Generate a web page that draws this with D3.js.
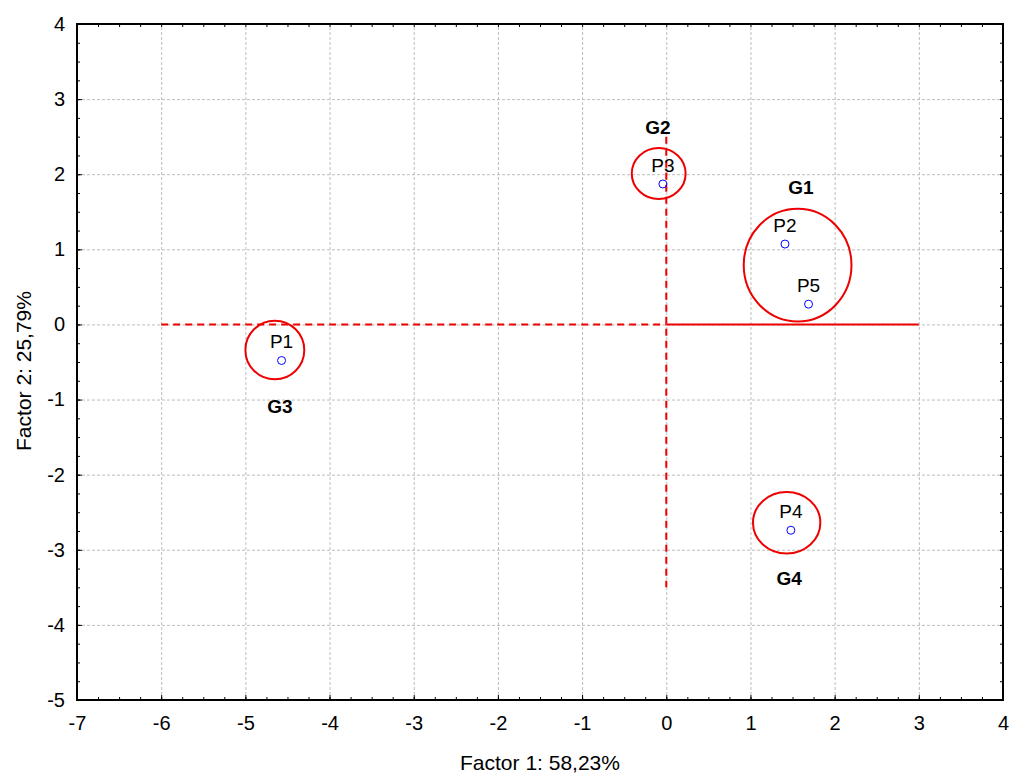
<!DOCTYPE html>
<html>
<head>
<meta charset="utf-8">
<script src="https://cdn.jsdelivr.net/npm/d3@7"></script>
<style>
  body { margin: 0; background: #fff; }
  text { font-family: Arial, "Liberation Sans", sans-serif; }
</style>
</head>
<body>
<div class="canvas"></div>
<script>
// points (factor scores)
const pointNames = ["P1", "P2", "P3", "P4", "P5"];
const pointX = [-4.57, 1.41, -0.04, 1.48, 1.69];
const pointY = [-0.48, 1.07, 1.87, -2.74, 0.27];

// groups drawn as ellipses round the points
const groupNames = ["G1", "G2", "G3", "G4"];
const groupCx = [1.56, -0.09, -4.65, 1.43];
const groupCy = [0.79, 2.01, -0.34, -2.64];
const groupRx = [0.64, 0.32, 0.35, 0.40];
const groupRy = [0.75, 0.34, 0.39, 0.41];
const groupLabelX = [1.60, -0.10, -4.59, 1.46];
const groupLabelY = [1.82, 2.62, -1.09, -3.38];

// red reference lines [x1, y1, x2, y2]
const dashedLines = [[-6, 0, 0, 0], [0, 2.5, 0, -3.5]];
const solidLines = [[0, 0, 3, 0]];

const xTicks = [-7, -6, -5, -4, -3, -2, -1, 0, 1, 2, 3, 4];
const yTicks = [-5, -4, -3, -2, -1, 0, 1, 2, 3, 4];

const margin = { top: 24, right: 8, bottom: 74, left: 77 };
const width = 1011 - margin.left - margin.right;
const height = 774 - margin.top - margin.bottom;

const svg = d3.select(".canvas")
  .append("svg")
    .attr("width", 1011)
    .attr("height", 774);

const graph = svg.append("g")
  .attr("transform", `translate(${margin.left}, ${margin.top})`);

const x = d3.scaleLinear().domain([-7, 4]).range([0, width]);
const y = d3.scaleLinear().domain([-5, 4]).range([height, 0]);

// minor ticks every 0.25
const minorX = d3.range(-7, 4.001, 0.25);
const minorY = d3.range(-5, 4.001, 0.25);

// plain hyphen for negatives, like the original
const fmt = d => String(d);

// GRID
graph.append("g")
  .attr("class", "grid")
  .attr("transform", `translate(0, ${height})`)
  .call(d3.axisBottom(x).tickValues(xTicks).tickSize(-height).tickFormat(""));
graph.append("g")
  .attr("class", "grid")
  .call(d3.axisLeft(y).tickValues(yTicks).tickSize(-width).tickFormat(""));
graph.selectAll(".grid .domain").remove();
graph.selectAll(".grid line")
  .attr("stroke", "#bdbdbd")
  .attr("stroke-dasharray", "3,2");

// RED LINES
graph.selectAll(".dashed")
  .data(dashedLines)
  .enter().append("line")
    .attr("x1", d => x(d[0])).attr("y1", d => y(d[1]))
    .attr("x2", d => x(d[2])).attr("y2", d => y(d[3]))
    .attr("stroke", "#ee0000")
    .attr("stroke-width", 2)
    .attr("stroke-dasharray", "7,5");
graph.selectAll(".solid")
  .data(solidLines)
  .enter().append("line")
    .attr("x1", d => x(d[0])).attr("y1", d => y(d[1]))
    .attr("x2", d => x(d[2])).attr("y2", d => y(d[3]))
    .attr("stroke", "#ee0000")
    .attr("stroke-width", 2);

// ELLIPSES
const groups = groupNames.map((n, i) => ({
  name: n, cx: groupCx[i], cy: groupCy[i], rx: groupRx[i], ry: groupRy[i],
  lx: groupLabelX[i], ly: groupLabelY[i]
}));

graph.selectAll(".grp")
  .data(groups)
  .enter().append("ellipse")
    .attr("cx", d => x(d.cx))
    .attr("cy", d => y(d.cy))
    .attr("rx", d => x(d.cx + d.rx) - x(d.cx))
    .attr("ry", d => y(d.cy - d.ry) - y(d.cy))
    .attr("fill", "none")
    .attr("stroke", "#ee0000")
    .attr("stroke-width", 2);

graph.selectAll(".glabel")
  .data(groups)
  .enter().append("text")
    .attr("x", d => x(d.lx))
    .attr("y", d => y(d.ly))
    .attr("dy", "0.35em")
    .attr("text-anchor", "middle")
    .style("font-size", "19px")
    .style("font-weight", "bold")
    .text(d => d.name);

// POINTS
const points = pointNames.map((n, i) => ({ name: n, x: pointX[i], y: pointY[i] }));

graph.selectAll(".pt")
  .data(points)
  .enter().append("circle")
    .attr("cx", d => x(d.x))
    .attr("cy", d => y(d.y))
    .attr("r", 4)
    .attr("fill", "none")
    .attr("stroke", "#0000ff")
    .attr("stroke-width", 1);

graph.selectAll(".plabel")
  .data(points)
  .enter().append("text")
    .attr("x", d => x(d.x))
    .attr("y", d => y(d.y) - 12)
    .attr("text-anchor", "middle")
    .style("font-size", "19px")
    .text(d => d.name);

// AXES - ticks point inward on all four sides
const tickLabelSize = "20px";

const xAxis = graph.append("g")
  .attr("transform", `translate(0, ${height})`)
  .call(d3.axisBottom(x).tickValues(xTicks).tickFormat(fmt)
    .tickSizeInner(-5).tickSizeOuter(0).tickPadding(16));
xAxis.selectAll("text").style("font-size", tickLabelSize).attr("fill", "#000");

graph.append("g")
  .attr("transform", `translate(0, ${height})`)
  .call(d3.axisBottom(x).tickValues(minorX).tickSize(-3).tickFormat(""));

const yAxis = graph.append("g")
  .call(d3.axisLeft(y).tickValues(yTicks).tickFormat(fmt)
    .tickSizeInner(-5).tickSizeOuter(0).tickPadding(12));
yAxis.selectAll("text").style("font-size", tickLabelSize).attr("fill", "#000");

graph.append("g")
  .call(d3.axisLeft(y).tickValues(minorY).tickSize(-3).tickFormat(""));

graph.append("g")
  .call(d3.axisTop(x).tickValues(minorX).tickSize(-3).tickFormat(""));
graph.append("g")
  .attr("transform", `translate(${width}, 0)`)
  .call(d3.axisRight(y).tickValues(minorY).tickSize(-3).tickFormat(""));

graph.selectAll(".domain").remove();

// frame
graph.append("rect")
  .attr("width", width)
  .attr("height", height)
  .attr("fill", "none")
  .attr("stroke", "#000")
  .attr("stroke-width", 2);

// AXIS TITLES
svg.append("text")
  .attr("x", 540)
  .attr("y", 770)
  .attr("text-anchor", "middle")
  .style("font-size", "21px")
  .text("Factor 1: 58,23%");

svg.append("text")
  .attr("transform", "translate(31, 371) rotate(-90)")
  .attr("text-anchor", "middle")
  .style("font-size", "21px")
  .text("Factor 2: 25,79%");
</script>
</body>
</html>
